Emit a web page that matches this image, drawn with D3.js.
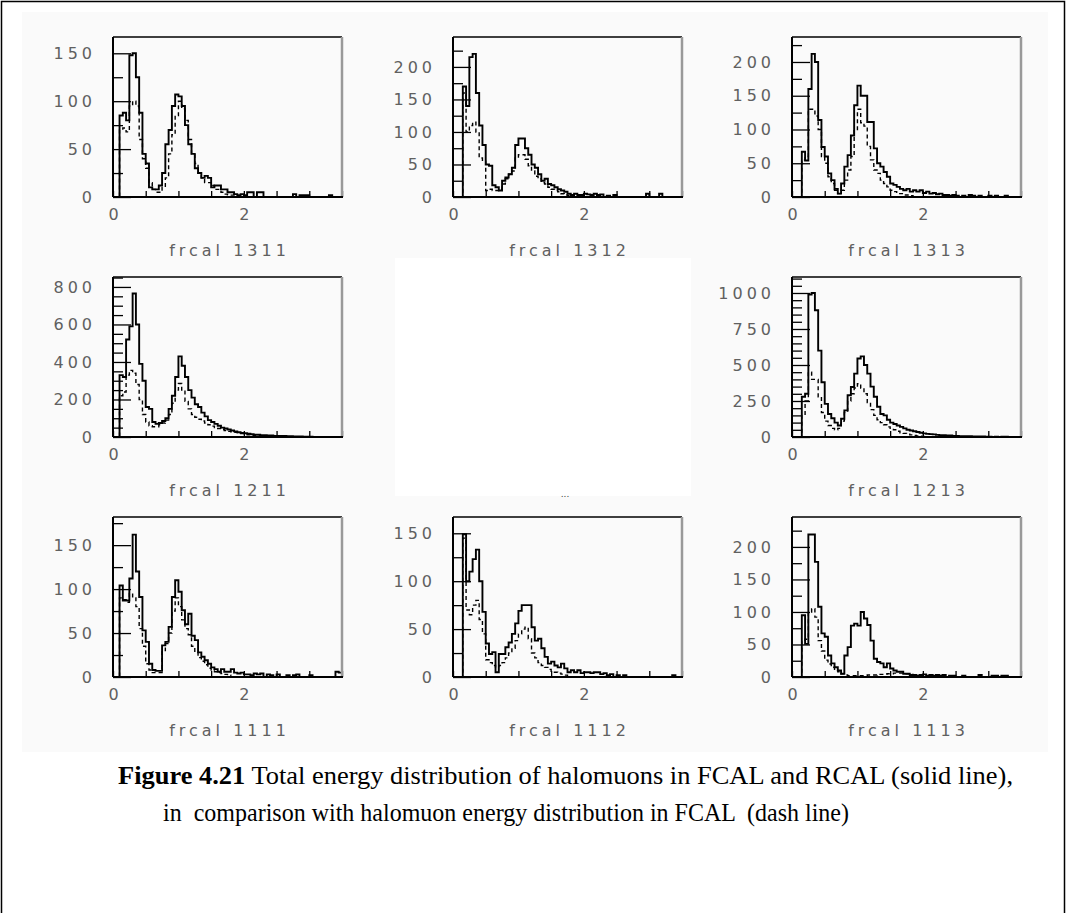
<!DOCTYPE html>
<html>
<head>
<meta charset="utf-8">
<script src="https://cdn.jsdelivr.net/npm/d3@7"></script>
<style>
  body { margin: 0; background: #fff; }
  svg { display: block; }
  .lbl { font-family: "DejaVu Sans", sans-serif; font-size: 16px; fill: #606060; letter-spacing: 4px; }
  .cap { font-family: "Liberation Serif", "Times New Roman", serif; font-size: 26px; fill: #000; }
</style>
</head>
<body>
<svg width="1067" height="913"></svg>
<script>
// histogram bins: 0.05 wide, starting at 0
const binWidth = 0.05;

const panelLabels = ["frcal 1311", "frcal 1312", "frcal 1313",
                     "frcal 1211", null, "frcal 1213",
                     "frcal 1111", "frcal 1112", "frcal 1113"];
const yMaxima   = [167, 246, 237, 853, 0, 1111, 182, 167, 246];
const yMajor    = [50, 50, 50, 200, 0, 250, 50, 50, 50];
const yMinor    = [25, 25, 25, 50, 0, 50, 25, 25, 25];
const xTickVals = [0, 0.5, 1, 1.5, 2, 2.5, 3, 3.5];
const xLabelled = [0, 2];

// solid = FCAL+RCAL, dashed = FCAL only
const s1311 = [0,0,85,88,80,148,150,125,88,45,35,10,8,8,12,25,55,70,95,107,105,95,75,55,45,30,25,20,22,20,10,12,12,8,8,5,5,3,2,3,2,5,5,0,5,5,0,0,0,0,0,0,0,0,0,3,0,2,2,2,0,0,0,0,0,0,2];
const d1311 = [0,0,70,72,68,95,100,95,60,40,30,15,8,5,5,10,20,45,65,85,100,92,80,60,45,35,25,20,15,15,12,8,8,5,3,2,2];
const s1312 = [0,0,0,170,140,215,220,160,110,80,50,48,18,15,10,25,30,35,45,80,90,90,75,65,50,45,35,25,28,20,18,15,12,10,8,5,3,5,3,3,5,4,3,5,3,4,0,2,0,3,0,0,0,0,0,0,0,0,0,5,0,0,0,5];
const d1312 = [0,0,0,160,100,110,115,100,60,55,10,12,10,10,12,20,28,35,40,60,65,65,58,48,40,32,28,22,20,15,12,10,8,5,3,2,2];
const s1313 = [0,0,0,67,54,160,212,200,114,74,60,35,25,12,5,20,45,62,91,136,165,150,150,111,111,72,50,45,37,30,20,18,15,12,10,12,8,10,8,10,6,8,5,6,4,5,3,3,2,3,2,0,2,0,3,2,0,2,0,0,2,0,2,0,0,2];
const d1313 = [0,0,0,55,60,130,130,120,100,60,50,30,20,10,5,10,25,40,60,100,130,110,105,75,55,40,35,25,20,15,10,8,5,5,3,3,2];
const s1211 = [0,0,330,320,520,590,765,600,390,300,160,150,80,70,75,85,100,150,220,320,430,380,320,250,210,175,160,130,110,90,80,70,60,50,45,40,35,30,25,22,20,18,15,12,12,10,10,8,8,6,6,5,5,4,4,3,3,3,2,2,2];
const d1211 = [0,0,220,240,330,355,340,280,200,120,80,60,55,55,65,75,90,120,180,250,285,250,190,150,120,105,95,85,75,65,58,50,45,40,35,30,28,25,20,18,15,12,10,8,6,5,4,3];
const s1213 = [0,0,0,280,300,990,1000,880,600,380,230,160,130,100,80,127,185,290,347,440,545,560,500,440,350,280,210,160,150,120,100,90,80,70,60,50,45,40,35,30,25,22,20,18,15,12,12,10,10,8,8,6,6,5,5,4,4,3,3,2,2,0,2,0,2,2];
const d1213 = [0,0,0,150,250,450,400,400,280,170,110,80,60,50,60,110,170,250,300,340,370,340,300,240,190,150,120,100,85,70,60,50,40,30,25,20,15,10,8,5,3];
const s1111 = [0,0,104,87,87,112,162,120,91,53,40,15,8,7,7,36,40,57,91,110,97,76,60,72,47,42,28,23,19,15,11,9,6,9,6,6,9,5,4,5,3,3,2,4,3,4,0,3,2,0,3,0,0,2,0,2,3,0,0,0,2,0,0,0,0,0,0,0,6,5];
const d1111 = [0,0,90,88,85,95,90,80,55,35,15,8,5,5,5,30,38,50,75,90,80,65,55,48,35,28,22,18,14,10,8,6,5,4,3,2];
const s1112 = [0,0,0,149,100,110,123,133,100,68,35,24,26,5,24,24,31,36,45,56,69,75,75,75,52,38,40,30,21,14,16,12,10,14,9,5,7,5,7,4,5,5,4,5,5,3,4,2,3,0,2,0,2,0,0,0,0,0,0,0,0,0,0,0,0,0,0,2];
const d1112 = [0,0,0,145,70,65,75,80,60,45,18,15,12,10,12,15,20,25,30,38,45,50,52,40,25,20,15,12,10,8,6,5,4,3,2];
const s1113 = [0,0,0,95,51,219,219,177,108,67,62,33,21,15,10,5,33,46,79,82,79,100,90,80,56,28,23,21,15,21,13,10,8,8,5,5,3,3,2,3,4,2,3,2,3,2,3,0,2,2,0,0,2,0,0,0,0,3,0,0,0,2,2,0,2,2];
const d1113 = [0,0,0,55,58,100,105,92,56,40,26,20,15,10,8,5,3,2,2,2,2,2,2,3,3,3,4,4,4,5,5,6,6,6,5,5,4,3,2];

const solidSeries  = [s1311, s1312, s1313, s1211, null, s1213, s1111, s1112, s1113];
const dashedSeries = [d1311, d1312, d1313, d1211, null, d1213, d1111, d1112, d1113];

const captionBold = "Figure 4.21";
const captionRest = " Total energy distribution of halomuons in FCAL and RCAL (solid line),";
const captionLine2 = "in  comparison with halomuon energy distribution in FCAL  (dash line)";

const svg = d3.select("svg");
const W = 229, H = 160;
const colX = [113, 453, 792];
const rowY = [37, 277, 517];

// page frame
svg.append("rect")
    .attr("x", 1.5).attr("y", 1.5)
    .attr("width", 1063).attr("height", 940)
    .attr("fill", "#fff").attr("stroke", "#000").attr("stroke-width", 1.5);

// faint grey of the scanned figure, the missing panel is pure white
svg.append("rect").attr("x", 22).attr("y", 12).attr("width", 1026).attr("height", 740).attr("fill", "#fafafa");
svg.append("rect").attr("x", 395).attr("y", 258).attr("width", 296).attr("height", 238).attr("fill", "#fff");
svg.append("text").attr("x", 565).attr("y", 497).attr("text-anchor", "middle")
    .style("font-family", "DejaVu Sans").style("font-size", "9px").style("fill", "#444").text("...");

function histPoints(vals) {
  const pts = [[0, 0]];
  vals.forEach((v, k) => pts.push([k * binWidth, v]));
  pts.push([vals.length * binWidth, 0]);
  return pts;
}

const styleText = a => a.selectAll("text").attr("class", "lbl")
    .attr("font-size", null).attr("font-family", null).attr("fill", null);

panelLabels.forEach((label, i) => {
  if (!label) return;
  const g = svg.append("g")
      .attr("transform", `translate(${colX[i % 3]},${rowY[Math.floor(i / 3)]})`);

  const x = d3.scaleLinear().domain([0, 3.5]).range([0, W]);
  const y = d3.scaleLinear().domain([0, yMaxima[i]]).range([H, 0]);

  const majors = d3.range(0, yMaxima[i] + 1e-9, yMajor[i]);
  const minors = d3.range(yMinor[i], yMaxima[i], yMinor[i]).filter(v => v % yMajor[i] !== 0);

  // minor y ticks (inside)
  g.append("g")
      .call(d3.axisLeft(y).tickValues(minors).tickSizeInner(-10).tickSizeOuter(0).tickFormat(""))
      .call(a => a.select(".domain").remove())
      .call(a => a.selectAll("line").attr("stroke", "#000").attr("stroke-width", 1.3));

  // major y ticks with labels
  g.append("g")
      .call(d3.axisLeft(y).tickValues(majors).tickSizeInner(-18).tickSizeOuter(0).tickPadding(17)
              .tickFormat(d3.format("d")))
      .call(a => a.select(".domain").remove())
      .call(a => a.selectAll("line").attr("stroke", "#000").attr("stroke-width", 1.3))
      .call(styleText);

  // x ticks
  g.append("g")
      .attr("transform", `translate(0,${H})`)
      .call(d3.axisBottom(x).tickValues(xTickVals).tickSizeInner(-6).tickSizeOuter(0).tickPadding(12)
              .tickFormat(d => xLabelled.includes(d) ? d : ""))
      .call(a => a.select(".domain").remove())
      .call(a => a.selectAll("line").attr("stroke", "#000").attr("stroke-width", 1.3))
      .call(styleText)
      .call(a => a.selectAll("text").attr("dx", "2px"));

  const line = d3.line()
      .x(d => x(d[0]))
      .y(d => y(d[1]))
      .curve(d3.curveStepAfter);

  g.append("path")
      .attr("d", line(histPoints(dashedSeries[i])))
      .attr("fill", "none").attr("stroke", "#000").attr("stroke-width", 1.4)
      .attr("stroke-dasharray", "4,3");

  g.append("path")
      .attr("d", line(histPoints(solidSeries[i])))
      .attr("fill", "none").attr("stroke", "#000").attr("stroke-width", 1.9);

  // frame
  g.append("line").attr("x1", 0).attr("x2", W).attr("y1", 0).attr("y2", 0)
      .attr("stroke", "#000").attr("stroke-width", 1.3);
  g.append("line").attr("x1", W).attr("x2", W).attr("y1", 0).attr("y2", H)
      .attr("stroke", "#999").attr("stroke-width", 2.5);
  g.append("line").attr("x1", 0).attr("x2", 0).attr("y1", 0).attr("y2", H)
      .attr("stroke", "#000").attr("stroke-width", 2);
  g.append("line").attr("x1", 0).attr("x2", W + 1).attr("y1", H).attr("y2", H)
      .attr("stroke", "#000").attr("stroke-width", 2);

  g.append("text").attr("class", "lbl")
      .attr("x", W / 2 + 2).attr("y", H + 59)
      .attr("text-anchor", "middle")
      .text(label);
});

// caption
const cap1 = svg.append("text").attr("class", "cap")
    .attr("x", 118).attr("y", 784)
    .attr("textLength", 895).attr("lengthAdjust", "spacingAndGlyphs");
cap1.append("tspan").style("font-weight", "bold").text(captionBold);
cap1.append("tspan").text(captionRest);

svg.append("text").attr("class", "cap")
    .attr("x", 163).attr("y", 821)
    .attr("textLength", 686).attr("lengthAdjust", "spacingAndGlyphs")
    .style("white-space", "pre")
    .text(captionLine2);
</script>
</body>
</html>
